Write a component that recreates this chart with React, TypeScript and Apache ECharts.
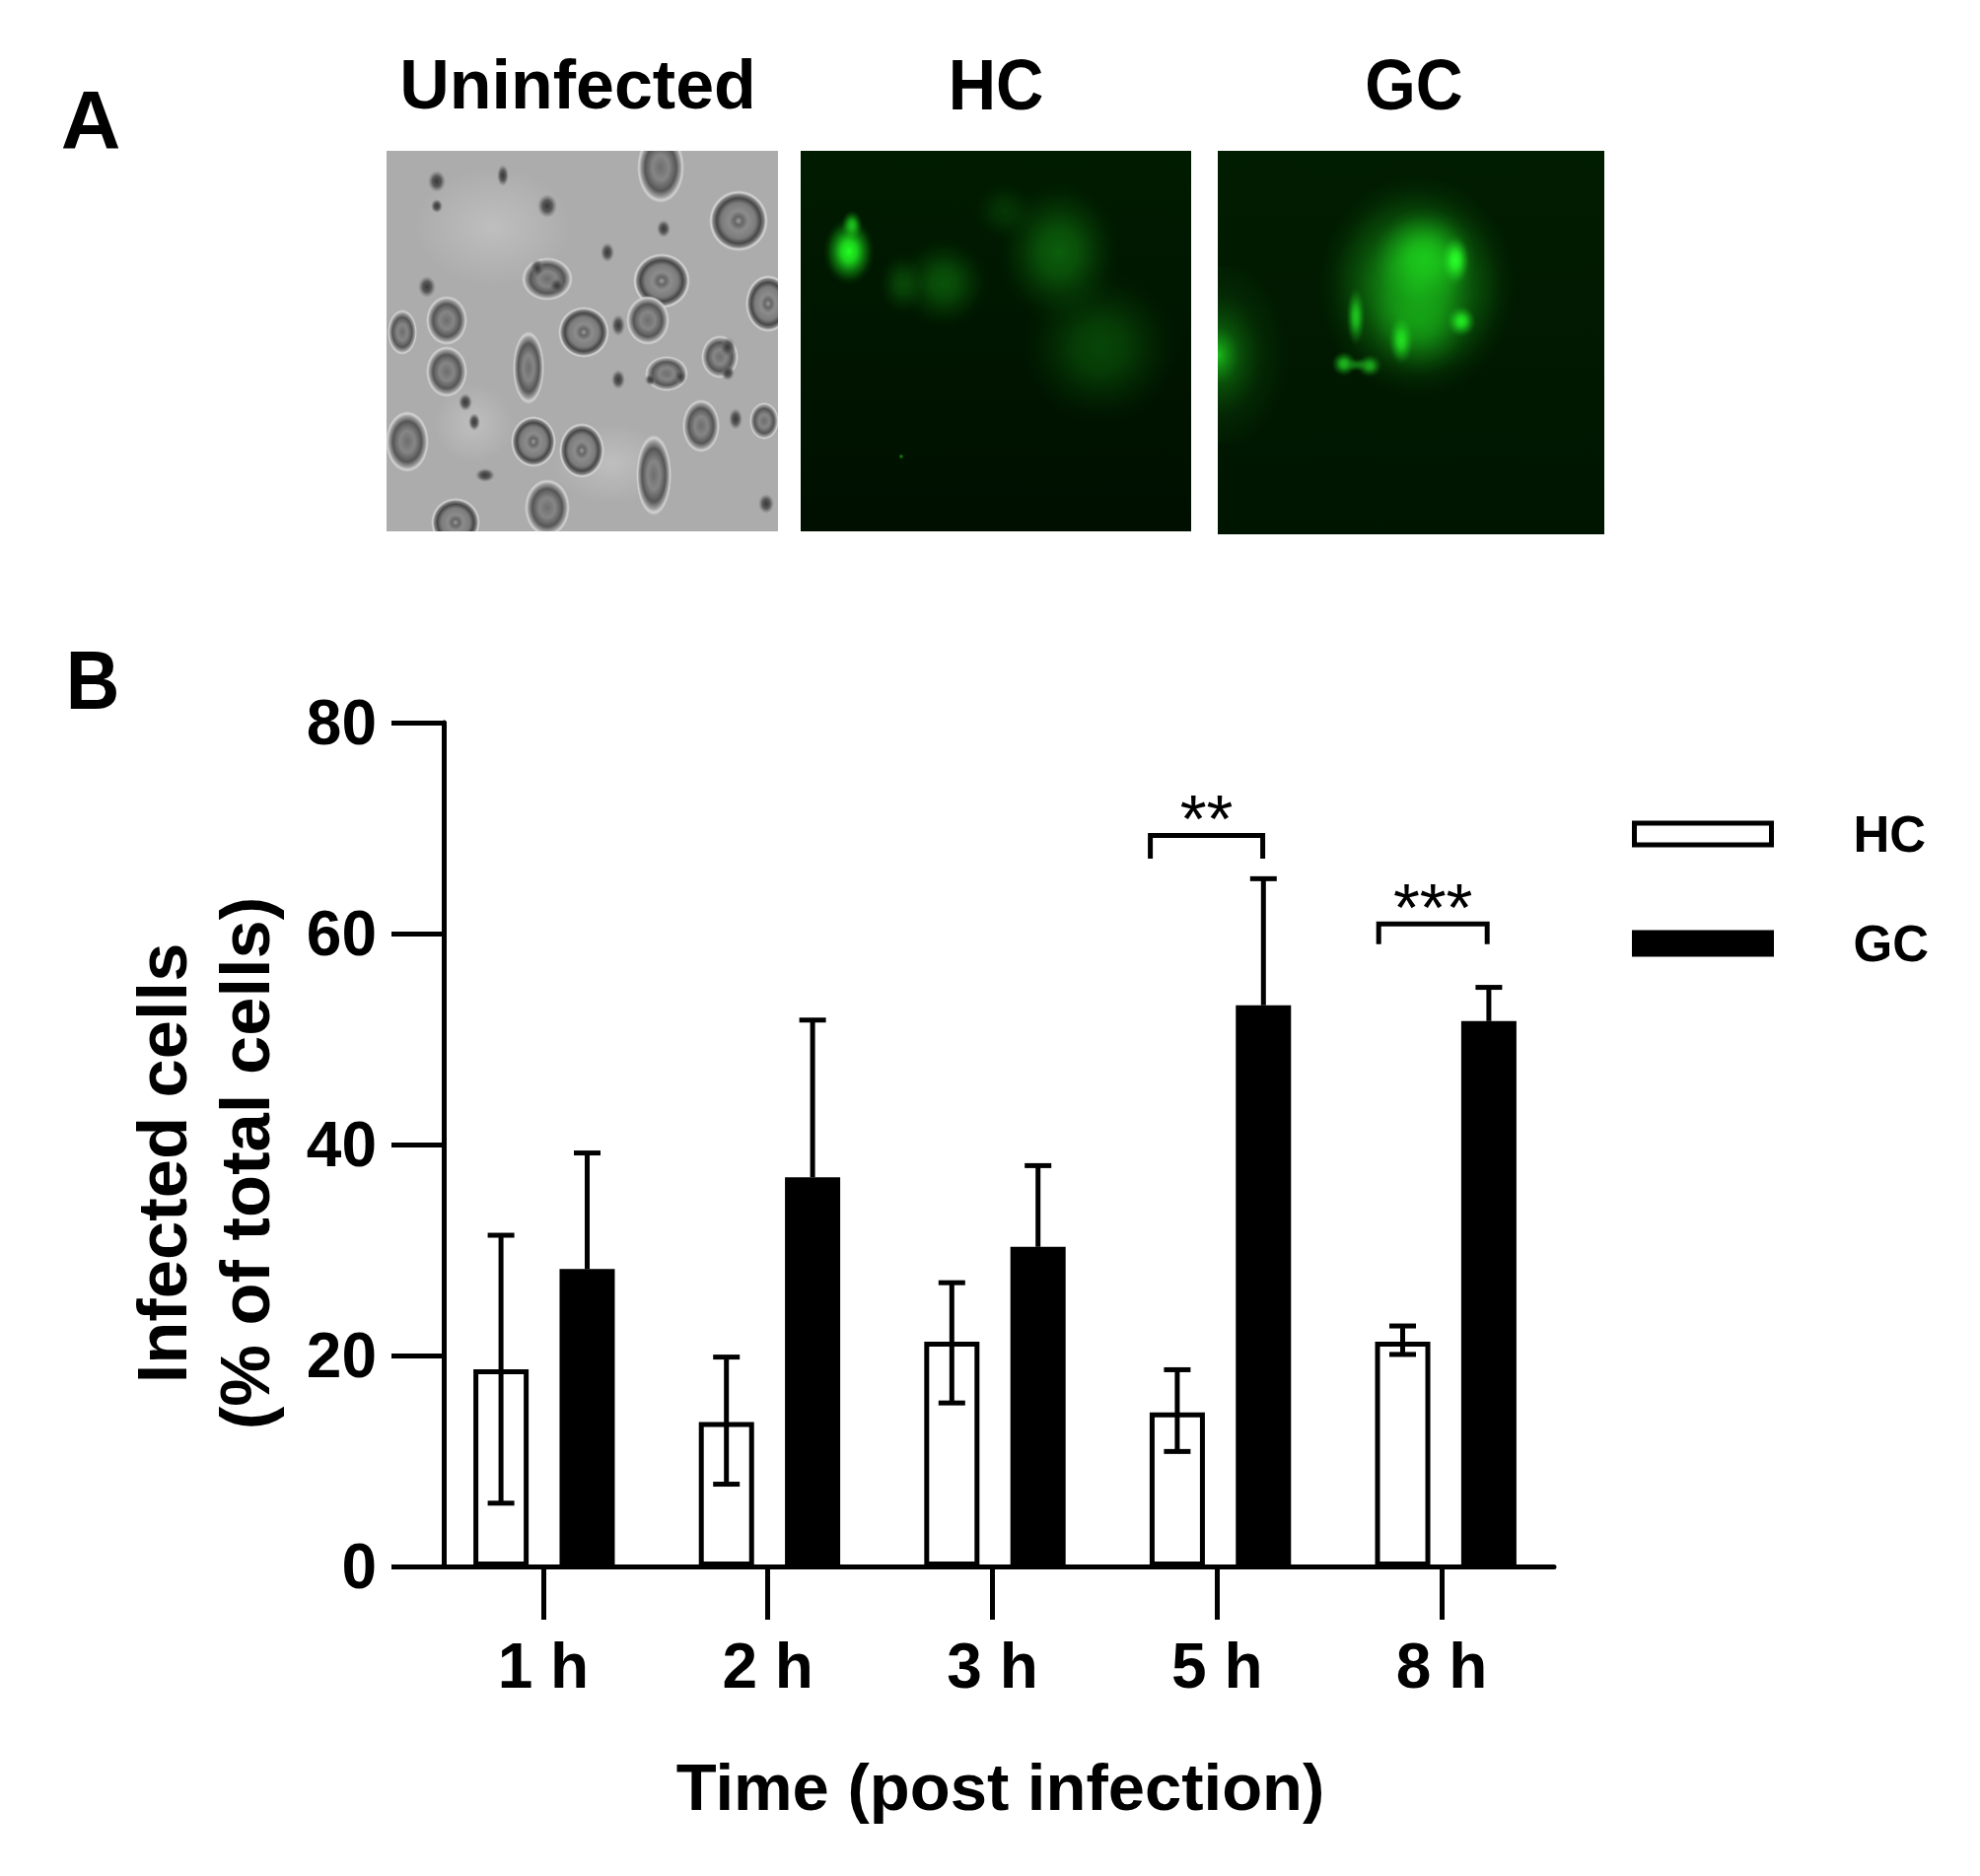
import React, { useEffect, useRef } from "react";
import * as echarts from "echarts";

const categories = ["1 h", "2 h", "3 h", "5 h", "8 h"];
const hcMean = [18.7, 13.7, 21.3, 14.6, 21.3];
const hcUpper = [31.4, 19.85, 26.9, 18.65, 22.8];
const hcLower = [6.0, 7.8, 15.5, 10.9, 20.1];
const gcMean = [28.2, 36.9, 30.3, 53.2, 51.7];
const gcUpper = [39.2, 51.8, 38.0, 65.2, 54.9];
const sigCategory = [3, 4];
const sigTop = [69.3, 60.9];
const sigBottom = [67.1, 59.0];
const sigLabels = ["**", "***"];

const SANS = "'Liberation Sans',Arial,sans-serif";

const BAR_W = 56;
const BAR_OFFSET = 43.7;
const SIG_LEFT = [-71, -68];
const SIG_RIGHT = [43, 42];

function blob(x: number, y: number, rx: number, ry: number, stops: [number, string][]) {
  return {
    type: "circle",
    x,
    y,
    scaleX: 1,
    scaleY: ry / rx,
    silent: true,
    shape: { cx: 0, cy: 0, r: rx },
    style: {
      fill: new echarts.graphic.RadialGradient(0.5, 0.5, 0.5, stops.map(([offset, color]) => ({ offset, color }))),
    },
  };
}
const ringCell = (x: number, y: number, rx: number, ry: number) =>
  blob(x, y, rx, ry, [
    [0, "#9c9c9c"],
    [0.14, "#666666"],
    [0.32, "#8c8c8c"],
    [0.58, "#7c7c7c"],
    [0.74, "#474747"],
    [0.85, "#7e7e7e"],
    [0.93, "#d6d6d6"],
    [1, "rgba(214,214,214,0)"],
  ]);
const softCell = (x: number, y: number, rx: number, ry: number) =>
  blob(x, y, rx, ry, [
    [0, "#6e6e6e"],
    [0.35, "#868686"],
    [0.66, "#565656"],
    [0.82, "#989898"],
    [0.92, "#d2d2d2"],
    [1, "rgba(210,210,210,0)"],
  ]);
const dot = (x: number, y: number, r: number, ry = r) =>
  blob(x, y, r, ry, [
    [0, "#383838"],
    [0.5, "#5a5a5a"],
    [1, "rgba(120,120,120,0)"],
  ]);
const light = (x: number, y: number, rx: number, ry: number) =>
  blob(x, y, rx, ry, [
    [0, "rgba(205,205,205,0.55)"],
    [1, "rgba(205,205,205,0)"],
  ]);
const glow = (x: number, y: number, rx: number, ry: number, c: string, a: number) =>
  blob(x, y, rx, ry, [
    [0, `rgba(${c},${a})`],
    [0.3, `rgba(${c},${a * 0.8})`],
    [0.6, `rgba(${c},${a * 0.36})`],
    [0.85, `rgba(${c},${a * 0.08})`],
    [1, `rgba(${c},0)`],
  ]);

function panelElements(): any[] {
  const rect = (x: number, y: number, width: number, height: number, fill: any) => ({
    type: "rect",
    silent: true,
    shape: { x, y, width, height },
    style: { fill },
  });
  const vertical = (a: string, b: string) =>
    new echarts.graphic.LinearGradient(0, 0, 0, 1, [
      { offset: 0, color: a },
      { offset: 1, color: b },
    ]);
  return [
    rect(392, 153, 397, 386, "#acacac"),
    light(500, 230, 80, 60),
    light(620, 470, 60, 40),
    light(480, 430, 40, 40),
    softCell(670, 170, 24, 36),
    ringCell(749, 224, 30, 31),
    ringCell(671, 285, 29, 28),
    ringCell(592, 337, 26, 26),
    softCell(657, 325, 22, 25),
    ringCell(779, 308, 23, 29),
    softCell(555, 283, 26, 22),
    softCell(453, 377, 21, 26),
    softCell(536, 373, 16, 37),
    softCell(676, 379, 22, 18),
    softCell(730, 362, 19, 22),
    softCell(413, 448, 22, 31),
    ringCell(541, 448, 23, 26),
    ringCell(590, 457, 23, 28),
    softCell(711, 432, 19, 27),
    softCell(775, 427, 15, 19),
    softCell(555, 515, 23, 29),
    ringCell(462, 530, 25, 25),
    softCell(663, 482, 18, 41),
    softCell(453, 325, 21, 25),
    softCell(408, 337, 15, 23),
    dot(443, 184, 9, 11),
    dot(443, 209, 6, 7),
    dot(510, 178, 6, 11),
    dot(555, 209, 10, 12),
    dot(616, 256, 7, 10),
    dot(673, 232, 7, 9),
    dot(433, 291, 9, 11),
    dot(472, 408, 7, 9),
    dot(481, 428, 6, 9),
    dot(627, 385, 7, 10),
    dot(746, 425, 7, 11),
    dot(777, 511, 8, 10),
    dot(492, 482, 10, 7),
    dot(627, 330, 7, 11),
    dot(738, 352, 8, 10),
    dot(738, 378, 7, 8),
    dot(545, 272, 7, 9),
    dot(565, 290, 8, 8),
    dot(660, 385, 6, 6),
    dot(690, 382, 6, 8),
    rect(380, 120, 420, 33, "#ffffff"),
    rect(380, 539, 430, 20, "#ffffff"),
    rect(360, 150, 32, 400, "#ffffff"),
    rect(789, 150, 23, 400, "#ffffff"),

    rect(812, 153, 396, 386, vertical("#001c00", "#000f00")),
    glow(1074, 256, 62, 72, "16,120,16", 0.72),
    glow(1116, 352, 80, 78, "12,100,12", 0.62),
    glow(957, 287, 46, 46, "14,110,14", 0.68),
    glow(915, 288, 24, 32, "14,100,14", 0.6),
    glow(1019, 214, 32, 30, "10,80,10", 0.5),
    glow(861, 255, 26, 34, "34,255,34", 1),
    glow(864, 228, 11, 15, "34,230,34", 0.8),
    glow(914, 463, 3, 3, "30,180,30", 0.7),

    rect(1235, 153, 392, 389, vertical("#011d01", "#001500")),
    {
      type: "rect",
      silent: true,
      shape: { x: 1235, y: 270, width: 130, height: 180 },
      style: {
        fill: new echarts.graphic.RadialGradient(0, 0.5, 0.55, [
          { offset: 0, color: "rgba(28,200,28,0.95)" },
          { offset: 0.3, color: "rgba(14,110,14,0.65)" },
          { offset: 0.65, color: "rgba(10,70,10,0.3)" },
          { offset: 1, color: "rgba(10,70,10,0)" },
        ]),
      },
    },
    glow(1437, 290, 100, 112, "24,170,24", 0.95),
    glow(1445, 262, 52, 52, "30,215,30", 0.8),
    glow(1440, 325, 52, 54, "24,180,24", 0.6),
    glow(1476, 264, 15, 25, "40,255,40", 1),
    glow(1482, 326, 15, 16, "34,235,34", 1),
    glow(1421, 345, 13, 25, "34,225,34", 1),
    glow(1375, 321, 10, 30, "30,200,30", 1),
    glow(1363, 369, 13, 13, "30,190,30", 1),
    glow(1389, 371, 13, 12, "30,180,30", 0.95),
    glow(1376, 370, 18, 7, "28,160,28", 0.7),
  ];
}

const label = (text: string, x: number, y: number, size: number, scaleX = 1) => ({
  type: "text",
  x,
  y,
  scaleX,
  silent: true,
  style: {
    text,
    fontSize: size,
    fontFamily: SANS,
    fontWeight: "bold",
    fill: "#000",
    align: "center",
    textAlign: "center",
    verticalAlign: "middle",
    textVerticalAlign: "middle",
  },
});

export default function App() {
  const ref = useRef<HTMLDivElement>(null);
  useEffect(() => {
    if (!ref.current) return;
    const chart = echarts.init(ref.current, undefined, { renderer: "svg" });

    const errorBars = (offset: number, lowerToo: boolean) => (params: any, api: any) => {
      const idx = api.value(0);
      const hi = api.coord([idx, api.value(2)]);
      const lo = api.coord([idx, api.value(1)]);
      const x = hi[0] + offset;
      const lineStyle = { stroke: "#000", lineWidth: 5, fill: "none" };
      const children: any[] = [
        { type: "line", shape: { x1: x, y1: hi[1], x2: x, y2: lo[1] }, style: lineStyle },
        { type: "line", shape: { x1: x - 13.5, y1: hi[1], x2: x + 13.5, y2: hi[1] }, style: lineStyle },
      ];
      if (lowerToo) {
        children.push({ type: "line", shape: { x1: x - 13.5, y1: lo[1], x2: x + 13.5, y2: lo[1] }, style: lineStyle });
      }
      return { type: "group", children };
    };

    // The printed tick row and the bar row have slightly different pitches in the
    // reference, so the bars sit on a second, hidden pair of axes with the same y range.
    const barAxes = { xAxisIndex: 1, yAxisIndex: 1 };

    chart.setOption({
      animation: false,
      backgroundColor: "#ffffff",
      grid: [
        { left: 437, top: 733, width: 1139, height: 856, containLabel: false },
        { left: 437.5, top: 733, width: 1143, height: 856, containLabel: false },
      ],
      legend: {
        orient: "vertical",
        left: 1650,
        top: 813,
        itemWidth: 139,
        itemHeight: 22,
        itemGap: 55,
        icon: "rect",
        selectedMode: false,
        textStyle: {
          fontFamily: SANS,
          fontWeight: "bold",
          fontSize: 51,
          lineHeight: 56,
          color: "#000",
          padding: [0, 0, 0, 78],
        },
        data: [
          { name: "HC", itemStyle: { color: "#fff", borderColor: "#000", borderWidth: 5 } },
          { name: "GC", itemStyle: { color: "#000", borderColor: "#000", borderWidth: 5 } },
        ],
      },
      xAxis: [
        {
          type: "category",
          data: categories,
          axisLine: { lineStyle: { color: "#000", width: 5 } },
          axisTick: { show: true, alignWithLabel: true, length: 54, lineStyle: { color: "#000", width: 5 } },
          axisLabel: { interval: 0, margin: 69, color: "#000", fontFamily: SANS, fontWeight: "bold", fontSize: 64 },
          name: "Time (post infection)",
          nameLocation: "middle",
          nameGap: 190,
          nameTextStyle: { color: "#000", fontFamily: SANS, fontWeight: "bold", fontSize: 67, padding: [0, 0, 0, 16] },
        },
        { type: "category", gridIndex: 1, data: categories, show: false },
      ],
      yAxis: [
        {
          type: "value",
          min: 0,
          max: 80,
          interval: 20,
          offset: -13,
          splitLine: { show: false },
          axisLine: { show: true, onZero: false, lineStyle: { color: "#000", width: 5 } },
          axisTick: { show: true, length: 53, lineStyle: { color: "#000", width: 5 } },
          axisLabel: { margin: 68, color: "#000", fontFamily: SANS, fontWeight: "bold", fontSize: 64 },
          name: "Infected cells\n(% of total cells)",
          nameLocation: "middle",
          nameRotate: 90,
          nameGap: 160,
          nameTextStyle: {
            color: "#000",
            fontFamily: SANS,
            fontWeight: "bold",
            fontSize: 70.5,
            lineHeight: 84,
            align: "center",
            padding: [0, 38, 0, 0],
          },
        },
        { type: "value", gridIndex: 1, min: 0, max: 80, interval: 20, show: false, splitLine: { show: false } },
      ],
      graphic: {
        elements: [
          ...panelElements(),
          label("A", 92, 122, 84),
          label("B", 94, 690, 84, 0.9),
          label("Uninfected", 586, 86, 70),
          label("HC", 1010, 86, 72, 0.93),
          label("GC", 1434, 86, 72, 0.92),
        ],
      },
      series: [
        {
          name: "HC",
          type: "bar",
          ...barAxes,
          data: hcMean,
          barWidth: BAR_W,
          barGap: "56%",
          itemStyle: { color: "#fff", borderColor: "#000", borderWidth: 5 },
        },
        {
          name: "GC",
          type: "bar",
          ...barAxes,
          data: gcMean,
          barWidth: BAR_W,
          barGap: "56%",
          itemStyle: { color: "#000", borderColor: "#000", borderWidth: 5 },
        },
        {
          name: "HC error",
          type: "custom",
          ...barAxes,
          z: 5,
          clip: false,
          encode: { x: 0, y: [1, 2] },
          data: categories.map((_, i) => [i, hcLower[i], hcUpper[i]]),
          renderItem: errorBars(-BAR_OFFSET, true),
        },
        {
          name: "GC error",
          type: "custom",
          ...barAxes,
          z: 5,
          clip: false,
          encode: { x: 0, y: [1, 2] },
          data: categories.map((_, i) => [i, gcMean[i], gcUpper[i]]),
          renderItem: errorBars(BAR_OFFSET, false),
        },
        {
          name: "Significance",
          type: "custom",
          ...barAxes,
          z: 6,
          clip: false,
          encode: { x: 0, y: [1, 2] },
          data: sigCategory.map((c, i) => [c, sigBottom[i], sigTop[i]]),
          renderItem: (params: any, api: any) => {
            const idx = api.value(0);
            const top = api.coord([idx, api.value(2)]);
            const bottom = api.coord([idx, api.value(1)]);
            const xl = top[0] + SIG_LEFT[params.dataIndex];
            const xr = top[0] + SIG_RIGHT[params.dataIndex];
            return {
              type: "group",
              children: [
                {
                  type: "polyline",
                  shape: { points: [[xl, bottom[1]], [xl, top[1]], [xr, top[1]], [xr, bottom[1]]] },
                  style: { stroke: "#000", lineWidth: 5, fill: "none" },
                },
                {
                  type: "text",
                  style: {
                    text: sigLabels[params.dataIndex],
                    x: (xl + xr) / 2,
                    y: top[1] + 18,
                    align: "center",
                    textAlign: "center",
                    verticalAlign: "bottom",
                    textVerticalAlign: "bottom",
                    fontFamily: SANS,
                    fontSize: 69,
                    fill: "#000",
                  },
                },
              ],
            };
          },
        },
      ],
    });
    return () => chart.dispose();
  }, []);
  return <div ref={ref} style={{ position: "absolute", left: 0, top: 0, width: 2008, height: 1903 }} />;
}
